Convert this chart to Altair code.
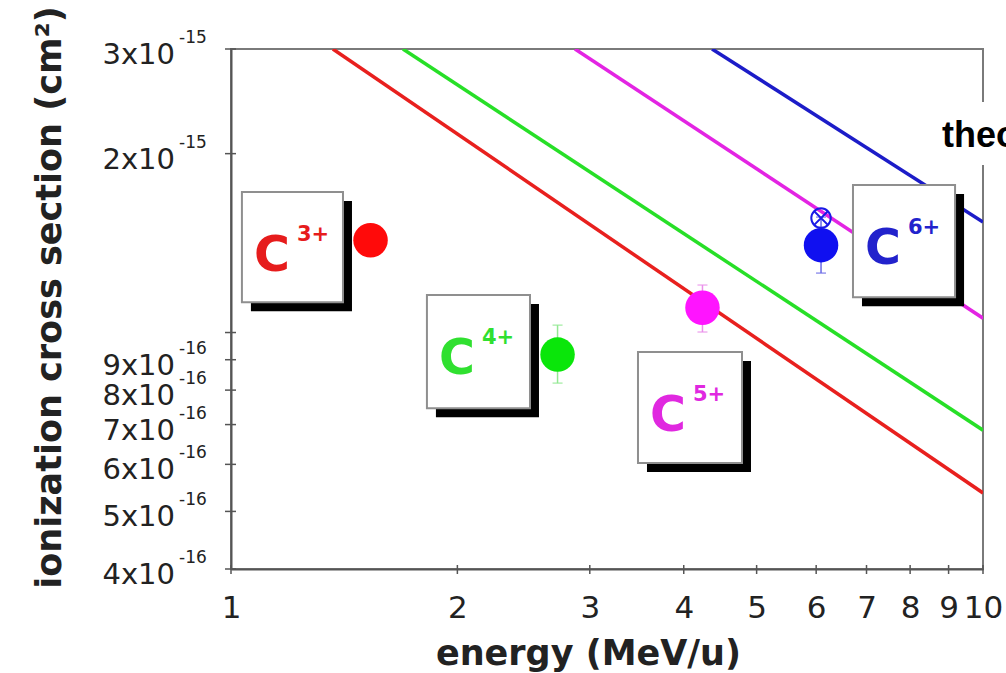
import altair as alt
import pandas as pd

# plot area size in pixels
W, H = 752, 520

ions = ["C3+", "C4+", "C5+", "C6+"]
charges = ["3+", "4+", "5+", "6+"]

line_colors = ["#e8201e", "#27df27", "#e324e3", "#1c1cc8"]
marker_colors = ["#ff0a0a", "#0ae60a", "#ff14ff", "#1010f0"]
label_colors = ["#e61c1c", "#30e030", "#e028e0", "#2222cc"]

# theory curves (straight in log-log): start and end point of each
theory_start_energy = [1.366, 1.693, 2.867, 4.362]
theory_start_sigma = [3e-15, 3e-15, 3e-15, 3e-15]
theory_end_energy = [10, 10, 10, 10]
theory_end_sigma = [5.37e-16, 6.85e-16, 1.057e-15, 1.534e-15]

# measured cross sections
exp_energy = [1.533, 2.718, 4.236, 6.09]
exp_sigma = [1.43e-15, 9.18e-16, 1.101e-15, 1.403e-15]

# error bars (C3+ bar is hidden inside its marker)
err_ions = ["C4+", "C5+", "C6+"]
err_energy = [2.718, 4.236, 6.09]
err_low = [8.22e-16, 1.002e-15, 1.259e-15]
err_high = [1.029e-15, 1.202e-15, 1.564e-15]
err_colors = ["#92e892", "#ea90ea", "#6a6ae6"]

# second C6+ value (open crossed circle)
alt_energy = [6.09]
alt_sigma = [1.558e-15]

# label boxes: left/right energy, top/bottom cross section
box_left = [1.034, 1.822, 3.477, 6.716]
box_right = [1.409, 2.498, 4.781, 9.180]
box_top = [1.723e-15, 1.156e-15, 9.27e-16, 1.771e-15]
box_bottom = [1.125e-15, 7.46e-16, 6.03e-16, 1.147e-15]

# axes
x_ticks = [1, 2, 3, 4, 5, 6, 7, 8, 9, 10]
y_ticks = [4e-16, 5e-16, 6e-16, 7e-16, 8e-16, 9e-16, 1e-15, 2e-15, 3e-15]
y_label_values = [3e-15, 2e-15, 9e-16, 8e-16, 7e-16, 6e-16, 5e-16, 4e-16]
y_label_mantissa = ["3x10", "2x10", "9x10", "8x10", "7x10", "6x10", "5x10", "4x10"]
y_label_exponent = ["-15", "-15", "-16", "-16", "-16", "-16", "-16", "-16"]

# "theory" key (runs off the right edge)
theory_key_text = ["theory"]
theory_key_energy = [8.82]
theory_key_sigma = [2.052e-15]
theory_key_box = {"energy": [8.32], "energy2": [10.86], "sigma": [2.443e-15], "sigma2": [1.913e-15]}

FONT = "DejaVu Sans"
INK = "#222222"

x_scale = alt.Scale(type="log", domain=[1, 10], nice=False)
y_scale = alt.Scale(type="log", domain=[4e-16, 3e-15], nice=False)

x_axis = alt.Axis(
    values=x_ticks, format="d", labelFont=FONT, labelFontSize=31, labelColor=INK,
    labelPadding=24, labelOverlap=False, labelFlush=False, ticks=False, tickSize=0,
    grid=False, domainColor="#555555", domainWidth=2,
    title="energy (MeV/u)", titleFont=FONT, titleFontSize=35, titleFontWeight="bold",
    titleColor=INK, titleX=357, titleY=95, titleBaseline="alphabetic", titleAlign="center",
)
y_axis = alt.Axis(
    labels=False, ticks=False, tickSize=0, grid=False, domainColor="#555555", domainWidth=2,
    title="ionization cross section (cm²)", titleFont=FONT, titleFontSize=35,
    titleFontWeight="bold", titleColor=INK, titleAngle=270, titleX=-171, titleY=248,
    titleBaseline="alphabetic", titleAlign="center",
)


def X(field="energy"):
    return alt.X(f"{field}:Q", scale=x_scale, axis=x_axis)


def Y(field="sigma"):
    return alt.Y(f"{field}:Q", scale=y_scale, axis=y_axis)


def ion_color(domain, colors):
    return alt.Color("ion:N", scale=alt.Scale(domain=domain, range=colors), legend=None)


# --- data tables ---
theory_df = pd.DataFrame({
    "ion": ions + ions,
    "energy": theory_start_energy + theory_end_energy,
    "sigma": theory_start_sigma + theory_end_sigma,
})
exp_df = pd.DataFrame({"ion": ions, "energy": exp_energy, "sigma": exp_sigma})
err_df = pd.DataFrame({"ion": err_ions, "energy": err_energy, "sigma": err_low, "sigma2": err_high})
cap_df = pd.DataFrame({
    "ion": err_ions + err_ions,
    "energy": err_energy + err_energy,
    "sigma": err_low + err_high,
})
alt_df = pd.DataFrame({"energy": alt_energy, "sigma": alt_sigma})
box_df = pd.DataFrame({
    "ion": ions, "charge": charges,
    "energy": box_left, "energy2": box_right, "sigma": box_top, "sigma2": box_bottom,
})
xtick_df = pd.DataFrame({"energy": x_ticks})
ytick_df = pd.DataFrame({"sigma": y_ticks})
ylab_df = pd.DataFrame({"sigma": y_label_values, "mant": y_label_mantissa, "expo": y_label_exponent})
key_df = pd.DataFrame({"energy": theory_key_energy, "sigma": theory_key_sigma, "txt": theory_key_text})
key_box_df = pd.DataFrame(theory_key_box)

# --- layers ---
theory_lines = alt.Chart(theory_df).mark_line(strokeWidth=3.5, clip=True).encode(
    x=X(), y=Y(), color=ion_color(ions, line_colors), detail="ion:N", order="energy:Q"
)

x_tick_marks = alt.Chart(xtick_df).mark_rule(color="#555555", strokeWidth=1.5).encode(
    x=X(), y=alt.value(H - 4), y2=alt.value(H + 5)
)
y_tick_marks = alt.Chart(ytick_df).mark_rule(color="#555555", strokeWidth=1.5).encode(
    y=Y(), x=alt.value(-6), x2=alt.value(5)
)

y_mant = alt.Chart(ylab_df).mark_text(
    font=FONT, fontSize=29, color=INK, align="right", baseline="middle", dy=6
).encode(y=Y(), x=alt.value(-56), text="mant:N")
y_expo = alt.Chart(ylab_df).mark_text(
    font=FONT, fontSize=17, color=INK, align="left", baseline="middle", dy=-11
).encode(y=Y(), x=alt.value(-52), text="expo:N")

err_bars = alt.Chart(err_df).mark_rule(strokeWidth=1.5).encode(
    x=X(), y=Y(), y2="sigma2:Q", color=ion_color(err_ions, err_colors)
)
err_caps = alt.Chart(cap_df).mark_tick(orient="horizontal", size=10, thickness=1.5).encode(
    x=X(), y=Y(), color=ion_color(err_ions, err_colors)
)

points = alt.Chart(exp_df).mark_point(shape="circle", filled=True, size=1190, opacity=1).encode(
    x=X(), y=Y(), color=ion_color(ions, marker_colors)
)
alt_ring = alt.Chart(alt_df).mark_point(
    shape="circle", filled=False, size=380, color="#1a1ae6", strokeWidth=2, opacity=1
).encode(x=X(), y=Y())
alt_cross = alt.Chart(alt_df).mark_point(
    shape="M -0.7 -0.7 L 0.7 0.7 M -0.7 0.7 L 0.7 -0.7", filled=False, size=380,
    color="#1a1ae6", strokeWidth=2, opacity=1
).encode(x=X(), y=Y())

box_shadow = alt.Chart(box_df).mark_rect(
    color="black", xOffset=9, x2Offset=9, yOffset=9, y2Offset=9
).encode(x=X(), x2="energy2:Q", y=Y(), y2="sigma2:Q")
box_face = alt.Chart(box_df).mark_rect(
    fill="white", stroke="#8f8f8f", strokeWidth=2
).encode(x=X(), x2="energy2:Q", y=Y(), y2="sigma2:Q")
box_c = alt.Chart(box_df).mark_text(
    font=FONT, fontSize=49, fontWeight="bold", align="left", baseline="alphabetic", dx=12, dy=79
).encode(x=X(), y=Y(), text=alt.value("C"), color=ion_color(ions, label_colors))
box_sup = alt.Chart(box_df).mark_text(
    font=FONT, fontSize=21, fontWeight="bold", align="left", baseline="alphabetic", dx=55, dy=49
).encode(x=X(), y=Y(), text="charge:N", color=ion_color(ions, label_colors))

key_box = alt.Chart(key_box_df).mark_rect(fill="white").encode(
    x=X(), x2="energy2:Q", y=Y(), y2="sigma2:Q"
)
key_text = alt.Chart(key_df).mark_text(
    font="Liberation Sans", fontSize=36, fontWeight="bold", color="black",
    align="left", baseline="alphabetic"
).encode(x=X(), y=Y(), text="txt:N")

chart = alt.layer(
    theory_lines, x_tick_marks, y_tick_marks, y_mant, y_expo,
    key_box, key_text,
    box_shadow, box_face, box_c, box_sup,
    err_bars, err_caps, points, alt_ring, alt_cross,
).resolve_scale(
    color="independent"
).properties(
    width=W, height=H,
    autosize=alt.AutoSizeParams(type="none"),
    padding={"left": 231, "top": 49, "right": 23, "bottom": 104},
    background="white",
).configure_view(
    stroke="#7a7a7a", strokeWidth=2
)

chart.save("out.html", embed_options={"renderer": "svg", "actions": False})
